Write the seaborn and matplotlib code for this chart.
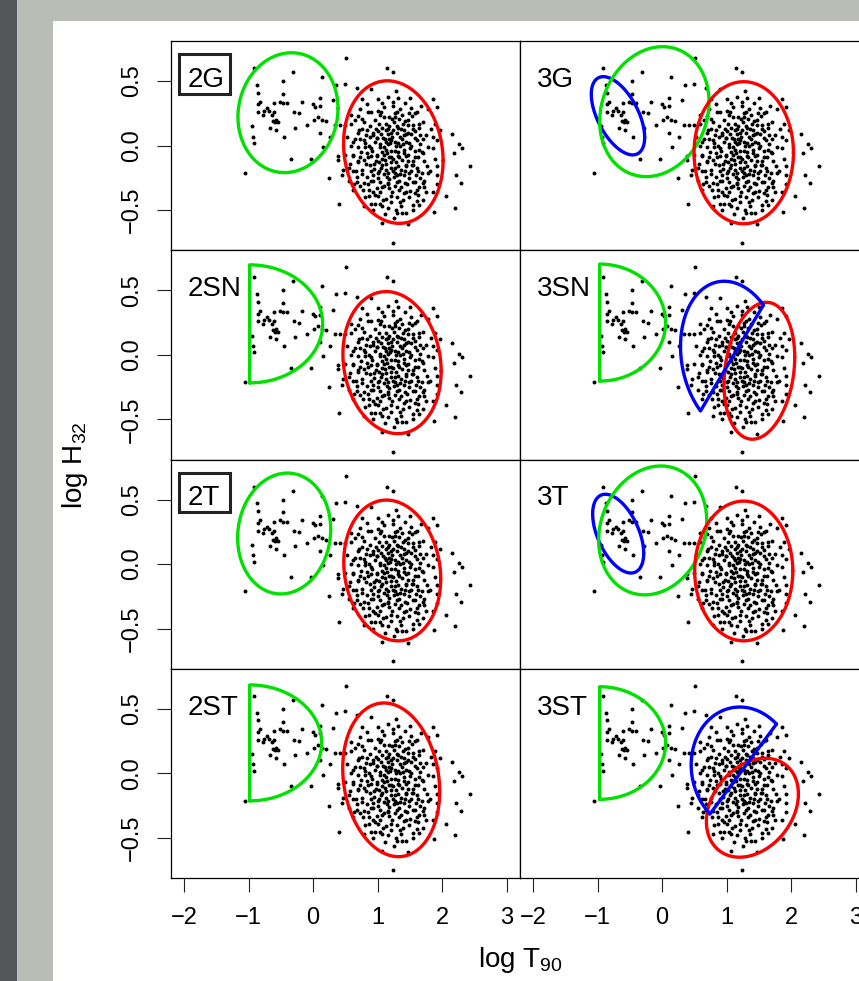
import numpy as np
import pandas as pd
import matplotlib
matplotlib.use("Agg")
import matplotlib.pyplot as plt
import seaborn as sns
from matplotlib.patches import Rectangle

# ---------------- data ----------------
# (log T90, log H32) (same sample in every panel)
grb_points = [
    (-0.92, 0.60), (-0.31, 0.57), (0.14, 0.53), (-0.46, 0.50), (-0.87, 0.47), (-0.86, 0.41),
    (-0.47, 0.40), (0.10, 0.37), (0.30, 0.35), (-0.83, 0.34), (-0.85, 0.32), (-0.52, 0.34),
    (-0.46, 0.33), (-0.41, 0.33), (-0.18, 0.34), (-0.61, 0.33), (0.00, 0.32), (-0.72, 0.29),
    (-0.76, 0.27), (-0.86, 0.26), (-0.69, 0.27), (-0.61, 0.26), (-0.30, 0.26), (-0.22, 0.25),
    (0.03, 0.30), (0.10, 0.31), (-0.78, 0.24), (-0.63, 0.24), (-0.58, 0.20), (-0.62, 0.19),
    (-0.59, 0.18), (-0.55, 0.18), (-0.67, 0.14), (-0.57, 0.12), (-0.95, 0.15), (-0.28, 0.14),
    (-0.10, 0.16), (0.01, 0.20), (0.08, 0.22), (0.13, 0.20), (0.20, 0.19), (-0.93, 0.07),
    (-0.92, 0.02), (-0.45, 0.07), (0.11, 0.10), (0.26, 0.07), (0.15, -0.01), (-0.35, -0.10),
    (-0.04, -0.10), (-1.05, -0.21), (0.34, 0.16), (0.50, 0.68), (1.14, 0.60), (1.23, 0.57),
    (0.36, 0.47), (0.49, 0.48),
    (0.68, 0.45), (0.89, 0.44), (1.28, 0.42), (1.31, 0.37), (0.76, 0.36), (1.86, 0.36),
    (1.07, 0.33), (1.23, 0.31), (1.92, 0.30), (1.52, 0.29), (0.58, 0.24), (0.70, 0.23),
    (0.75, 0.21), (0.90, 0.26), (1.00, 0.27), (1.03, 0.24), (1.29, 0.26), (1.37, 0.24),
    (1.48, 0.25), (1.58, 0.25), (1.17, 0.22), (1.26, 0.22), (1.42, 0.19), (1.64, 0.17),
    (1.88, 0.17), (0.42, 0.16), (0.49, 0.16), (0.58, 0.17), (0.71, 0.12), (0.83, 0.12),
    (0.92, 0.10), (1.05, 0.09), (1.15, 0.13), (1.24, 0.12), (1.31, 0.14), (1.47, 0.16),
    (1.55, 0.13), (1.66, 0.08), (1.85, 0.07), (2.15, 0.09), (0.52, 0.07), (0.65, 0.05),
    (0.78, 0.04), (0.88, 0.07), (0.98, 0.06), (1.11, 0.05), (1.21, 0.04), (1.35, 0.07),
    (1.44, 0.09), (1.58, 0.06), (1.70, 0.05), (1.92, 0.04), (2.26, 0.01), (2.30, -0.02),
    (0.59, 0.00), (0.69, -0.01), (0.80, -0.01), (0.90, -0.02), (1.03, -0.01), (1.15, 0.01),
    (1.28, 0.00), (1.39, 0.01), (1.52, 0.00), (1.64, -0.03), (1.78, -0.01), (2.18, -0.06),
    (0.38, -0.08), (0.49, -0.07), (0.62, -0.07), (0.73, -0.09), (0.85, -0.09), (0.98, -0.08),
    (1.09, -0.07), (1.21, -0.09), (1.33, -0.09), (1.44, -0.08), (1.57, -0.09), (1.70, -0.06),
    (1.88, -0.10), (0.38, -0.11), (0.57, -0.14), (0.69, -0.12), (0.82, -0.14), (0.94, -0.14),
    (1.07, -0.15), (1.20, -0.13), (1.31, -0.16), (1.44, -0.16), (1.55, -0.15), (1.76, -0.16),
    (1.91, -0.16), (2.43, -0.16), (0.46, -0.19), (0.62, -0.20), (0.76, -0.19), (0.89, -0.20),
    (1.00, -0.21), (1.12, -0.19), (1.26, -0.21), (1.35, -0.22), (1.49, -0.21), (1.62, -0.20),
    (1.78, -0.21), (1.91, -0.23), (2.21, -0.23), (0.24, -0.25), (0.44, -0.23), (0.56, -0.27),
    (0.68, -0.28), (0.78, -0.29), (0.90, -0.27), (1.03, -0.28), (1.16, -0.29), (1.29, -0.28),
    (1.42, -0.29), (1.55, -0.28), (1.70, -0.29), (2.28, -0.29), (0.62, -0.34), (0.77, -0.34),
    (0.92, -0.36), (1.06, -0.32), (1.18, -0.33), (1.33, -0.34), (1.44, -0.36), (1.60, -0.34),
    (1.71, -0.32), (1.85, -0.36), (0.86, -0.39), (1.00, -0.39), (1.13, -0.41), (1.29, -0.40),
    (1.62, -0.38), (2.05, -0.39), (0.89, -0.45), (1.03, -0.45), (1.21, -0.44), (1.39, -0.42),
    (0.40, -0.45), (1.07, -0.47), (1.54, -0.46), (1.64, -0.46), (2.19, -0.48), (1.87, -0.51),
    (1.28, -0.50), (1.37, -0.52), (1.43, -0.52), (1.06, -0.60), (1.47, -0.61), (1.24, -0.75),
    (0.95, 0.20), (1.02, 0.17), (1.10, 0.22), (1.18, 0.15), (1.25, 0.18), (1.33, 0.21),
    (1.40, 0.12), (1.47, 0.20), (1.55, 0.16), (0.88, 0.15), (0.93, 0.08), (1.00, 0.11),
    (1.08, 0.06), (1.15, 0.09), (1.22, 0.07), (1.30, 0.10), (1.37, 0.05), (1.44, 0.03),
    (1.52, 0.09), (1.60, 0.04), (0.80, 0.02), (0.86, 0.00), (0.96, 0.03), (1.04, 0.01),
    (1.12, -0.03), (1.19, 0.02), (1.27, -0.04), (1.34, 0.00), (1.40, -0.03), (1.48, 0.02),
    (1.58, -0.04), (1.66, 0.01), (0.74, -0.05), (0.83, -0.06), (0.91, -0.04), (0.99, -0.07),
    (1.06, -0.10), (1.14, -0.06), (1.24, -0.10), (1.31, -0.05), (1.38, -0.11), (1.47, -0.07),
    (1.55, -0.12), (1.62, -0.09), (1.72, -0.12), (0.70, -0.13), (0.79, -0.11), (0.88, -0.15),
    (0.97, -0.12), (1.05, -0.17), (1.13, -0.14), (1.21, -0.17), (1.28, -0.13), (1.36, -0.19),
    (1.44, -0.15), (1.52, -0.20), (1.60, -0.17), (1.68, -0.21), (0.76, -0.22), (0.84, -0.24),
    (0.93, -0.23), (1.01, -0.25), (1.09, -0.22), (1.17, -0.26), (1.25, -0.24), (1.33, -0.27),
    (1.40, -0.23), (1.48, -0.25), (1.57, -0.28), (1.65, -0.25), (0.72, -0.31), (0.85, -0.30),
    (0.98, -0.33), (1.10, -0.31), (1.22, -0.36), (1.36, -0.32), (1.50, -0.35), (1.63, -0.32),
    (1.75, -0.36), (0.80, -0.40), (0.95, -0.38), (1.08, -0.42), (1.20, -0.39), (1.35, -0.44),
    (1.48, -0.40), (1.60, -0.43), (0.92, -0.50), (1.15, -0.48), (1.30, -0.52), (1.55, -0.50),
    (0.70, 0.10), (0.78, 0.18), (0.85, 0.26), (1.10, 0.30), (1.35, 0.28), (1.60, 0.26),
    (1.70, 0.18), (1.75, 0.08), (0.65, 0.20), (0.72, 0.28), (1.16, 0.38), (1.42, 0.33),
    (1.00, 0.36), (0.66, -0.20), (0.62, -0.08), (1.80, -0.20), (1.85, -0.02), (1.78, 0.28),
    (1.92, -0.30), (1.96, 0.12), (1.12, 0.12), (1.20, 0.10), (1.26, 0.03), (1.32, -0.08),
    (1.18, -0.09), (1.09, -0.01), (1.41, 0.08), (1.29, 0.15), (1.23, -0.20), (1.15, -0.30),
    (1.05, 0.26), (1.45, -0.30), (1.39, 0.17), (0.90, -0.08), (1.02, -0.20), (1.58, 0.11),
    (1.50, -0.02), (1.27, 0.25), (1.13, 0.03), (0.99, 0.06),
    (0.97, 0.13), (1.07, 0.14), (1.17, 0.05), (1.36, 0.13), (1.46, 0.10), (1.53, 0.23),
    (0.82, 0.08), (0.75, 0.13), (1.63, 0.14), (1.69, -0.05), (0.94, -0.18), (1.06, -0.05),
    (1.16, -0.21), (1.27, -0.17), (1.42, -0.20), (1.53, -0.15), (0.87, -0.34), (1.03, -0.36),
    (1.27, -0.31), (1.41, -0.37), (1.58, -0.37), (0.68, -0.24), (0.61, 0.03), (0.55, -0.17),
    (1.72, -0.27), (1.82, 0.13), (1.67, 0.31), (0.84, 0.32), (1.23, 0.34), (1.50, 0.37),
    (0.96, -0.45), (1.11, -0.53), (1.25, -0.56), (1.36, -0.47), (1.70, -0.42), (0.79, -0.47),
    (1.12, 0.17), (1.22, 0.21), (1.32, 0.02), (1.02, -0.13), (1.11, -0.11), (1.20, -0.04),
    (1.40, -0.06), (1.47, -0.12), (0.92, -0.27), (1.14, -0.24), (1.30, -0.23), (1.59, -0.23),
    (0.73, 0.05), (0.63, -0.30),
]
log_t90 = [p[0] for p in grb_points]
log_h32 = [p[1] for p in grb_points]

panel_labels = [["2G", "3G"], ["2SN", "3SN"], ["2T", "3T"], ["2ST", "3ST"]]
boxed_labels = ["2G", "2T"]

x_ticks = [-2, -1, 0, 1, 2, 3]
y_ticks = [-0.5, 0.0, 0.5]
y_tick_labels = ["\u22120.5", "0.0", "0.5"]

# full Gaussian contours: colour, centre x, centre y, half-width x, half-width y, correlation
ellipses = {
    "2G":  [("green", -0.39, 0.255, 0.774, 0.464, 0.07), ("red", 1.24, -0.05, 0.77, 0.552, -0.12)],
    "3G":  [("blue", -0.684, 0.231, 0.413, 0.303, -0.55), ("green", -0.121, 0.263, 0.846, 0.503, 0.15),
            ("red", 1.262, -0.055, 0.769, 0.55, 0.0)],
    "2SN": [("red", 1.22, -0.06, 0.76, 0.55, -0.12)],
    "3SN": [("red", 1.504, -0.123, 0.547, 0.53, 0.2)],
    "2T":  [("green", -0.449, 0.237, 0.72, 0.468, 0.07), ("red", 1.223, -0.049, 0.75, 0.545, -0.12)],
    "3T":  [("blue", -0.681, 0.236, 0.395, 0.305, -0.5), ("green", -0.147, 0.261, 0.836, 0.499, 0.15),
            ("red", 1.262, -0.053, 0.759, 0.541, 0.0)],
    "2ST": [("red", 1.207, -0.05, 0.75, 0.595, -0.15)],
    "3ST": [("red", 1.396, -0.266, 0.712, 0.383, 0.28)],
}
# truncated (half) contours: colour, edge x, centre y, half-width x, half-height y
half_contours = {
    "2SN": [("green", -0.983, 0.24, 1.13, 0.457)],
    "3SN": [("green", -0.967, 0.25, 1.02, 0.453)],
    "2ST": [("green", -0.983, 0.236, 1.115, 0.449)],
    "3ST": [("green", -0.967, 0.235, 1.02, 0.436)],
}
# skewed contours cut along a chord: colour, chord centre x, y, chord half-vector, bulge vector
skew_contours = {
    "3SN": [("blue", 1.08, -0.024, 0.487, 0.41, -0.63, 0.43)],
    "3ST": [("blue", 1.254, 0.034, 0.514, 0.348, -0.62, 0.33)],
}

colours = {"green": "#00E100", "red": "#FF0000", "blue": "#0000FF"}

# ---------------- style ----------------
sns.set_theme(style="white")
plt.rcParams["font.family"] = ["Liberation Sans", "DejaVu Sans"]
plt.rcParams["mathtext.fontset"] = "custom"
plt.rcParams["mathtext.rm"] = "Liberation Sans"
plt.rcParams["mathtext.it"] = "Liberation Sans"
plt.rcParams["axes.unicode_minus"] = True
plt.rcParams["text.color"] = "black"
plt.rcParams["xtick.color"] = "black"
plt.rcParams["ytick.color"] = "black"
plt.rcParams["xtick.labelcolor"] = "black"
plt.rcParams["ytick.labelcolor"] = "black"

W, H = 859, 981
fig = plt.figure(figsize=(W / 100, H / 100), dpi=100)
fig.patch.set_facecolor("white")

# page background strips
fig.add_artist(Rectangle((0, 0), 17 / W, 1, transform=fig.transFigure,
                         facecolor="#53575a", edgecolor="none", zorder=0))
fig.add_artist(Rectangle((17 / W, 0), 36 / W, 1, transform=fig.transFigure,
                         facecolor="#babcb6", edgecolor="none", zorder=0))
fig.add_artist(Rectangle((17 / W, 1 - 21 / H), 1, 21 / H, transform=fig.transFigure,
                         facecolor="#babcb6", edgecolor="none", zorder=0))

df = pd.DataFrame({"logT90": log_t90, "logH32": log_h32})

left0, top0, pw, ph = 171, 41, 349, 209.25
t_full = np.linspace(0, 2 * np.pi, 300)
t_half = np.linspace(-np.pi / 2, np.pi / 2, 200)
t_skew = np.linspace(0, np.pi, 200)

for r in range(4):
    for c in range(2):
        l = left0 + c * pw
        t = top0 + r * ph
        ax = fig.add_axes([l / W, 1 - (t + ph) / H, pw / W, ph / H])
        ax.set_facecolor("white")
        sns.scatterplot(data=df, x="logT90", y="logH32", ax=ax, color="black",
                        s=8, linewidth=0, legend=False, zorder=2)
        name = panel_labels[r][c]
        for col, cx, cy, a, b, rho in ellipses.get(name, []):
            xs = cx + a * np.cos(t_full)
            ys = cy + b * (rho * np.cos(t_full) + np.sqrt(1 - rho ** 2) * np.sin(t_full))
            ax.plot(xs, ys, color=colours[col], lw=2.4, zorder=3)
        for col, x0, cy, a, b in half_contours.get(name, []):
            xs = np.concatenate([x0 + a * np.cos(t_half), [x0]])
            ys = np.concatenate([cy + b * np.sin(t_half), [cy - b]])
            ax.plot(xs, ys, color=colours[col], lw=2.4, zorder=3)
        for col, cx, cy, ux, uy, vx, vy in skew_contours.get(name, []):
            xs = cx + ux * np.cos(t_skew) + vx * np.sin(t_skew)
            ys = cy + uy * np.cos(t_skew) + vy * np.sin(t_skew)
            xs = np.concatenate([xs, [xs[0]]])
            ys = np.concatenate([ys, [ys[0]]])
            ax.plot(xs, ys, color=colours[col], lw=2.4, zorder=3)

        ax.set_xlim(-2.2, 3.2)
        ax.set_ylim(-0.81, 0.81)
        ax.set_xlabel("")
        ax.set_ylabel("")
        for sp in ax.spines.values():
            sp.set_visible(True)
            sp.set_color("black")
            sp.set_linewidth(0.9)

        if r == 3:
            ax.set_xticks(x_ticks)
            ax.set_xticklabels([str(v).replace("-", "\u2212") for v in x_ticks])
            ax.tick_params(axis="x", bottom=True, length=10, width=0.8, color="#222222",
                           labelsize=17, pad=11, labelcolor="black")
        else:
            ax.set_xticks([])
        if c == 0:
            ax.set_yticks(y_ticks)
            ax.set_yticklabels(y_tick_labels)
            ax.tick_params(axis="y", left=True, length=10, width=0.8, color="#222222",
                           labelsize=17, pad=10, labelrotation=90, labelcolor="black")
            for lab in ax.get_yticklabels():
                lab.set_va("center")
        else:
            ax.set_yticks([])

        if name in boxed_labels:
            ax.add_patch(Rectangle((-2.082, 0.40), 0.789, 0.309, facecolor="white",
                                   edgecolor="#222222", linewidth=2.2, zorder=4))
        ax.text(-1.943, 0.454, name, fontsize=20, ha="left", va="baseline", zorder=5,
                color="black")

fig.text(75 / W, 1 - 465 / H, "log H$_{32}$", rotation=90, ha="center", va="center",
         fontsize=20, color="black")
fig.text(520 / W, 1 - 967 / H, "log T$_{90}$", ha="center", va="baseline", fontsize=20,
         color="black")

fig.savefig("out.png", dpi=100)
